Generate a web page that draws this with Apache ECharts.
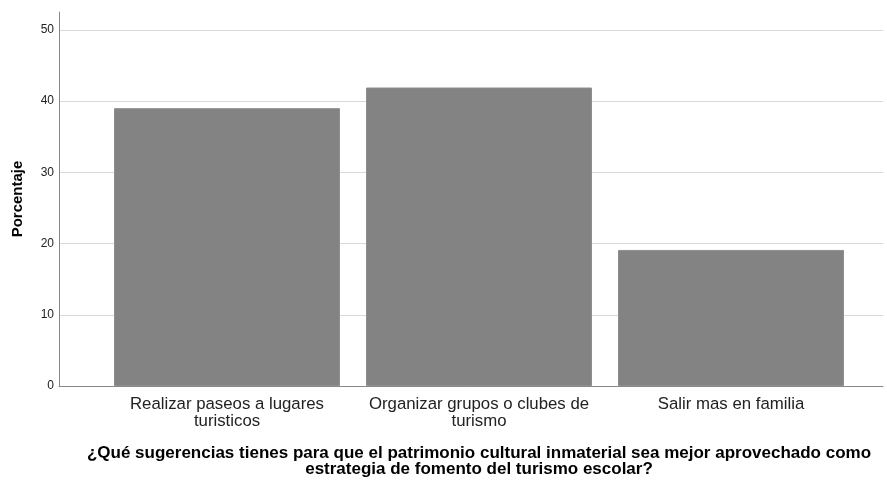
<!DOCTYPE html>
<html><head><meta charset="utf-8">
<script src="https://cdn.jsdelivr.net/npm/echarts@6/dist/echarts.min.js"></script>
<style>html,body{margin:0;padding:0;background:#fff}#c{width:887px;height:480px}</style>
</head><body><div id="c"></div>
<script>
const categories = ['Realizar paseos a lugares\nturisticos', 'Organizar grupos o clubes de\nturismo', 'Salir mas en familia'];
const values = [39.0, 41.9, 19.1];
const yMin = 0, yMax = 52.5, yInterval = 10;
const xTitle = '¿Qué sugerencias tienes para que el patrimonio cultural inmaterial sea mejor aprovechado como\nestrategia de fomento del turismo escolar?';
const yTitle = 'Porcentaje';

const font = 'Liberation Sans, Arial, sans-serif';
const chart = echarts.init(document.getElementById('c'), null, {renderer: 'canvas'});
chart.setOption({
  animation: false,
  backgroundColor: '#fff',
  grid: [
    {left: 101, right: 30, top: 12, bottom: 94, outerBoundsMode: 'none', containLabel: false},
    {left: 59, right: 4, top: 12, bottom: 94, outerBoundsMode: 'none', containLabel: false}
  ],
  xAxis: [
    {gridIndex: 0, type: 'category', data: categories,
     axisLine: {show: false}, axisTick: {show: false}, splitLine: {show: false},
     axisLabel: {color: '#222', fontFamily: font, fontSize: 16.8, lineHeight: 17, margin: 10, interval: 0},
     name: xTitle, nameLocation: 'middle', nameGap: 59,
     nameTextStyle: {color: '#000', fontFamily: font, fontSize: 17, fontWeight: 'bold', lineHeight: 16}},
    {gridIndex: 1, type: 'value', min: 0, max: 1,
     axisLine: {show: true, onZero: false, lineStyle: {color: '#888', width: 1}},
     axisTick: {show: false}, axisLabel: {show: false}, splitLine: {show: false}}
  ],
  yAxis: [
    {gridIndex: 0, type: 'value', min: yMin, max: yMax, interval: yInterval, show: false,
     splitLine: {show: false}},
    {gridIndex: 1, type: 'value', min: yMin, max: yMax, interval: yInterval,
     axisLine: {show: true, lineStyle: {color: '#888', width: 1}},
     axisTick: {show: false},
     axisLabel: {color: '#222', fontFamily: font, fontSize: 12, margin: 5, showMaxLabel: false},
     splitLine: {show: true, showMaxLine: false, lineStyle: {color: '#d9d9d9', width: 1}},
     name: yTitle, nameLocation: 'middle', nameGap: 34, nameRotate: 90,
     nameTextStyle: {color: '#000', fontFamily: font, fontSize: 15, fontWeight: 'bold'}}
  ],
  series: [
    {type: 'bar', xAxisIndex: 0, yAxisIndex: 0, data: values, barWidth: 226,
     itemStyle: {color: '#838383', borderColor: '#8e8e8e', borderWidth: 1},
     z: 3}
  ]
});
</script></body></html>
